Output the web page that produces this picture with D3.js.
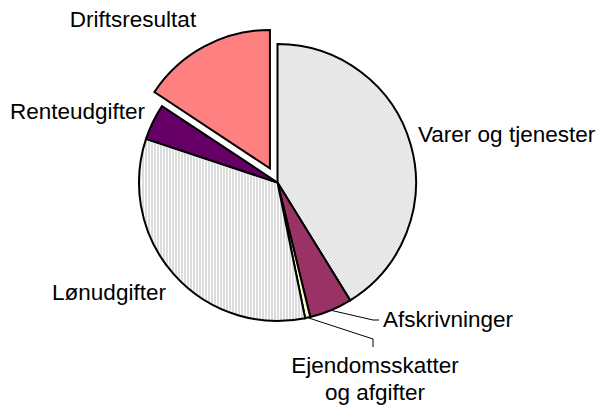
<!DOCTYPE html>
<html><head><meta charset="utf-8">
<script src="https://cdn.jsdelivr.net/npm/d3@7"></script>
<style>body{margin:0;background:#fff}svg{display:block}text{font-family:"Liberation Sans",Arial,sans-serif;fill:#000}</style>
</head><body><div id="chart"></div>
<script>
const categories = ["Varer og tjenester","Afskrivninger","Ejendomsskatter og afgifter","Lønudgifter","Renteudgifter","Driftsresultat"];
const values = [41.2, 5.0, 0.6, 33.3, 4.2, 15.7];
const fills = ["url(#diag)","#993366","#FFFFCC","url(#vert)","#660066","#FF8080"];
const exploded = [false,false,false,false,false,true];

const W=602,H=407, cx=277.5, cy=182.5, R=138.5, explodeDist=16;
const svg=d3.select("#chart").append("svg").attr("width",W).attr("height",H);
const defs=svg.append("defs");
const pd=defs.append("pattern").attr("id","diag").attr("patternUnits","userSpaceOnUse").attr("width",3).attr("height",3);
pd.append("rect").attr("width",3).attr("height",3).attr("fill","#fff");
pd.append("path").attr("d","M-1,1 L1,-1 M0,3 L3,0 M2,4 L4,2").attr("stroke","#b0b0b0").attr("stroke-width",0.9);
const pv=defs.append("pattern").attr("id","vert").attr("patternUnits","userSpaceOnUse").attr("width",3).attr("height",3);
pv.append("rect").attr("width",3).attr("height",3).attr("fill","#fff");
pv.append("rect").attr("x",0).attr("width",1).attr("height",3).attr("fill","#b8b8b8");

const pie=d3.pie().sort(null).value(d=>d)(values);
const arc=d3.arc().innerRadius(0).outerRadius(R);
const g=svg.append("g").attr("transform",`translate(${cx},${cy})`);
g.selectAll("path").data(pie).join("path")
 .attr("d",arc)
 .attr("transform",(d,i)=>{ if(!exploded[i]) return null; const a=(d.startAngle+d.endAngle)/2; return `translate(${Math.sin(a)*explodeDist},${-Math.cos(a)*explodeDist})`; })
 .attr("fill",(d,i)=>fills[i]).attr("stroke","#000").attr("stroke-width",2).attr("stroke-linejoin","miter");

// labels
const fs=22.5;
function lab(t,x,y,anchor){ svg.append("text").attr("x",x).attr("y",y).attr("text-anchor",anchor||"middle").attr("font-size",fs).text(t); }
lab("Driftsresultat",133,27);
lab("Renteudgifter",145,119,"end");
lab("Varer og tjenester",418,142,"start");
lab("Lønudgifter",109,300);
lab("Afskrivninger",383,327,"start");
lab("Ejendomsskatter",375,373);
lab("og afgifter",375,400);

// leader lines
function outerPt(i){ const d=pie[i]; const a=(d.startAngle+d.endAngle)/2; return [cx+Math.sin(a)*R, cy-Math.cos(a)*R]; }
const p1=outerPt(1), p2=outerPt(2);
svg.append("polyline").attr("points",[p1,[373,320],[379,320]].map(p=>p.join(",")).join(" ")).attr("fill","none").attr("stroke","#000").attr("stroke-width",1);
svg.append("polyline").attr("points",[p2,[373,339],[373,347]].map(p=>p.join(",")).join(" ")).attr("fill","none").attr("stroke","#000").attr("stroke-width",1);
</script></body></html>
